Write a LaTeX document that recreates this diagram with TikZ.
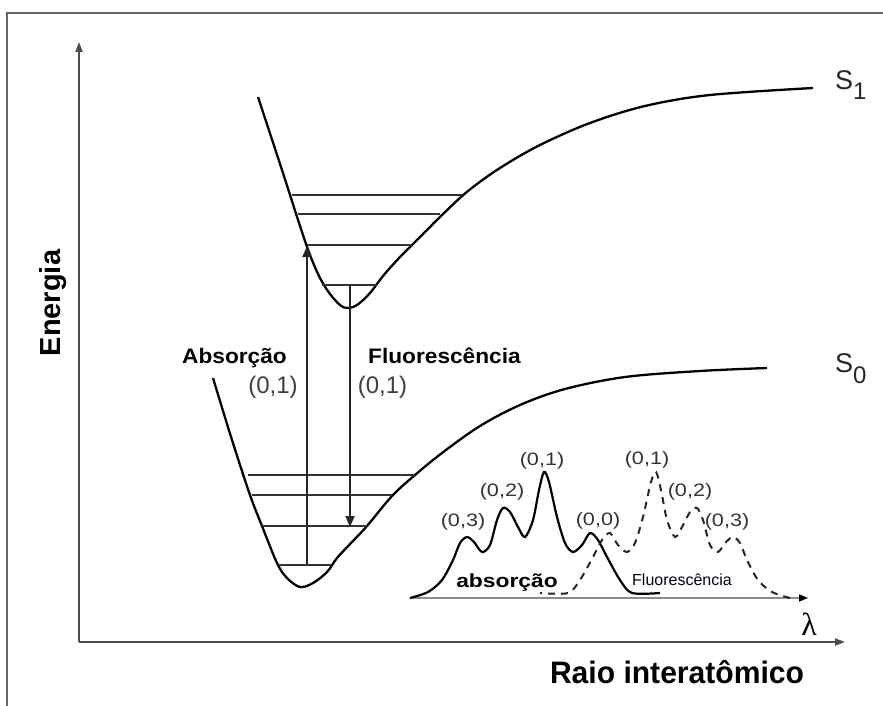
\documentclass[tikz,border=0pt]{standalone}
\usepackage{graphicx}
\usepackage{fontspec}
\setmainfont{Liberation Sans}
\newfontfamily\lamfont{Liberation Serif}
\usetikzlibrary{arrows.meta}
\begin{document}
\begin{tikzpicture}[x=1pt,y=-1pt,
  frame/.style={line width=2.5pt, black!60},
  axisln/.style={line width=2pt, black!70, -{Triangle[length=10pt,width=7pt]}},
  pot/.style={line width=2.3pt, black, line join=round},
  lvl/.style={line width=2.2pt, black!80},
  lvlthin/.style={line width=1.5pt, black!80},
  trans/.style={line width=1.8pt, black!85, -{Triangle[length=11pt,width=9pt]}},
  spec/.style={line width=2.2pt, black},
  specdash/.style={line width=2pt, black!85, dash pattern=on 7pt off 6pt},
  baseln/.style={line width=1.5pt, black!45, -{Triangle[length=9pt,width=7pt,black]}},
  biglab/.style={font=\fontsize{21}{25}\selectfont\bfseries, inner sep=0pt},
  vib/.style={font=\fontsize{24}{28}\selectfont, text=black!75, inner sep=0pt},
  pk/.style={font=\fontsize{18}{21}\selectfont, text=black!80, inner sep=0pt},
  stlab/.style={font=\fontsize{27}{30}\selectfont, text=black!85, inner sep=0pt, anchor=base west}
]
\useasboundingbox (0,0) rectangle (883,706);
\fill[white] (0,0) rectangle (883,706);

% frame
\draw[frame] (7,706) -- (7,13) -- (883,13);

% axes
\coordinate (O) at (79,642);
\coordinate (ytop) at (79,42);
\coordinate (xend) at (845,642);
\draw[axisln] (O) -- (ytop);
\draw[axisln] (O) -- (xend);

\node[rotate=90, anchor=base, inner sep=0pt, font=\fontsize{29}{32}\selectfont\bfseries] (energia) at (60,303) {Energia};
\node[anchor=base, inner sep=0pt, font=\fontsize{31}{34}\selectfont\bfseries] (raio) at (677,683) {\scalebox{0.97}[1]{Raio interatômico}};
\node[inner sep=0pt] (lambda) at (809,624) {\lamfont\fontsize{32}{34}\selectfont λ};

% S1 potential
\draw[pot] plot[smooth, tension=0.55] coordinates {(258,97) (282,170) (300,226) (310,255) (320,278) (330,294) (340,305) (347,308) (357,305) (370,293) (383,276) (400,257) (420,237) (442,215) (468,191) (500,168) (540,145) (590,123) (645,106) (710,95) (813,88)};
% S0 potential
\draw[pot] plot[smooth, tension=0.55] coordinates {(213,378) (232,440) (250,495) (262,526) (277,563) (287,578) (300,587) (313,583) (327,572) (337,558) (352,542) (367,526) (392,496) (415,475) (442,453) (480,426) (520,405) (565,389) (625,377) (700,371) (767,368)};

% S1 levels
\draw[lvl] (292,195) -- (462,195);
\draw[lvl] (298,214) -- (440,214);
\draw[lvl] (307,245) -- (412,245);
\draw[lvlthin] (322,285) -- (377,285);
% S0 levels
\draw[lvl] (248,475) -- (415,475);
\draw[lvl] (252,495) -- (392,495);
\draw[lvl] (262,526) -- (367,526);
\draw[lvlthin] (278,565) -- (332,565);

% transitions
\coordinate (absB) at (307,565);
\coordinate (absT) at (307,246);
\coordinate (flT) at (350,285);
\coordinate (flB) at (350,527);
\draw[trans] (absB) -- (absT);
\draw[trans] (flT) -- (flB);

\node[biglab, anchor=base] (abslab) at (234.5,363) {\scalebox{1.08}[1]{Absorção}};
\node[biglab, anchor=base west] (fllab) at (368,363) {\scalebox{1.08}[1]{Fluorescência}};
\node[vib, anchor=base] (v1) at (273,393) {(0,1)};
\node[vib, anchor=base] (v2) at (382.5,393) {(0,1)};

% state labels
\node[stlab] (s1) at (835,90) {S\raisebox{-10pt}{\fontsize{24}{26}\selectfont 1}};
\node[stlab] (s0) at (835,372) {S\raisebox{-11pt}{\fontsize{24}{26}\selectfont 0}};

% spectrum
\coordinate (bs) at (410,598);
\coordinate (be) at (808,598);
\draw[baseln] (bs) -- (be);
\def\absspec{(410,598) (428,592) (442,580) (453,560) (460,543) (467,537) (474,542) (482,552) (490,545) (497,520) (503,508) (510,512) (518,527) (525,537) (533,520) (539,490) (544,472) (549,482) (557,517) (565,543) (573,552) (582,545) (590,533) (598,540) (607,557) (620,580) (632,593) (660,593)}
\draw[spec] plot[smooth, tension=0.5] coordinates {\absspec};
\begin{scope}[shift={(1200,0)}, xscale=-1]
\draw[specdash] plot[smooth, tension=0.5] coordinates {\absspec};
\end{scope}

\node[pk] (p03) at (463,522) {\scalebox{1.2}[1]{(0,3)}};
\node[pk] (p02) at (502,492) {\scalebox{1.2}[1]{(0,2)}};
\node[pk] (p01) at (542,461) {\scalebox{1.2}[1]{(0,1)}};
\node[pk] (p00) at (598,521) {\scalebox{1.2}[1]{(0,0)}};
\node[pk] (q01) at (647,460) {\scalebox{1.2}[1]{(0,1)}};
\node[pk] (q02) at (690,492) {\scalebox{1.2}[1]{(0,2)}};
\node[pk] (q03) at (727,522) {\scalebox{1.2}[1]{(0,3)}};

\node[anchor=base, inner sep=0pt, font=\fontsize{19}{22}\selectfont\bfseries] (absspec) at (507,587) {\scalebox{1.2}[1]{absorção}};
\node[anchor=base west, inner sep=0pt, font=\fontsize{16}{19}\selectfont, text=black!90!blue] (flspec) at (632,585) {Fluorescência};
\end{tikzpicture}
\end{document}
